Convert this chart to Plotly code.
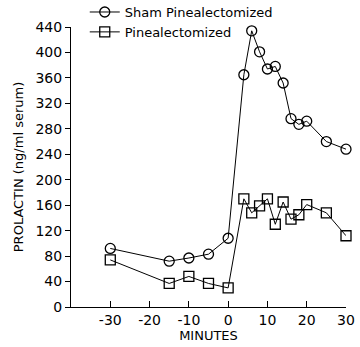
import plotly.graph_objects as go

minutes_pre = [-30, -15, -10, -5, 0]
minutes_post = [4, 6, 8, 10, 12, 14, 16, 18, 20, 25, 30]
minutes = minutes_pre + minutes_post

sham = [92, 72, 77, 83, 108, 365, 434, 401, 374, 378, 352, 296, 287, 292, 260, 248]
pinx = [74, 37, 48, 37, 30, 170, 148, 159, 170, 130, 165, 138, 145, 161, 148, 112]

x_ticks = [-30, -20, -10, 0, 10, 20, 30]
y_ticks = list(range(0, 441, 40))

FONT = "DejaVu Sans"

fig = go.Figure()
fig.add_trace(go.Scatter(
    x=minutes, y=sham, mode="lines+markers", name="Sham Pinealectomized",
    line=dict(color="black", width=1),
    marker=dict(symbol="circle-open", size=10, color="black", line=dict(width=1.3)),
    cliponaxis=False,
))
fig.add_trace(go.Scatter(
    x=minutes, y=pinx, mode="lines+markers", name="Pinealectomized",
    line=dict(color="black", width=1),
    marker=dict(symbol="square-open", size=10, color="black", line=dict(width=1.3)),
    cliponaxis=False,
))

fig.update_layout(
    width=360, height=347,
    margin=dict(l=71, r=14, t=27, b=40, autoexpand=False),
    paper_bgcolor="white", plot_bgcolor="white",
    font=dict(family=FONT, color="black", size=13),
    showlegend=True,
    legend=dict(x=0.05, y=1.107, xanchor="left", yanchor="top",
                bgcolor="rgba(0,0,0,0)", font=dict(size=13, family=FONT),
                itemwidth=30, tracegroupgap=0),
    xaxis=dict(range=[-40, 30], tickvals=x_ticks,
               ticktext=[str(v) for v in x_ticks], automargin=False,
               showgrid=False, zeroline=False, showline=True, linecolor="black", linewidth=1,
               ticks="inside", ticklen=6, tickcolor="black",
               tickfont=dict(size=14, family=FONT),
               title=dict(text="MINUTES", font=dict(size=13, family=FONT), standoff=2)),
    yaxis=dict(range=[0, 440], tickvals=y_ticks, automargin=False,
               showgrid=False, zeroline=False, showline=True, linecolor="black", linewidth=1,
               ticks="outside", ticklen=5, tickcolor="black",
               tickfont=dict(size=14, family=FONT),
               title=dict(text="PROLACTIN (ng/ml serum)", font=dict(size=13, family=FONT), standoff=8)),
)

fig.write_html("out.html")
